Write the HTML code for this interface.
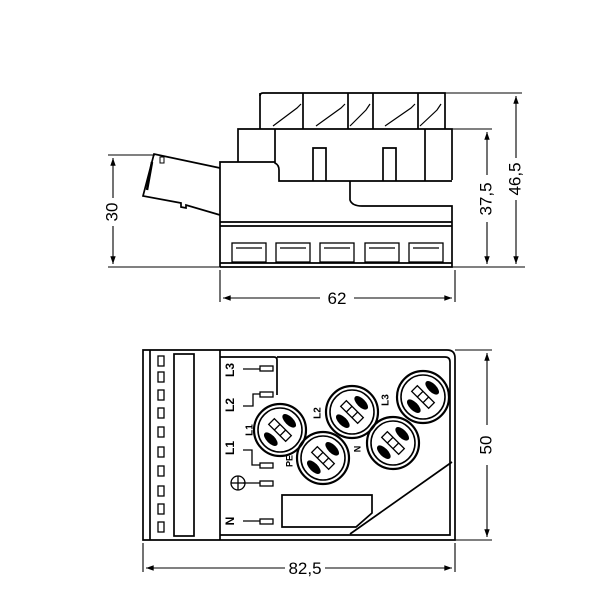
<!DOCTYPE html>
<html><head><meta charset="utf-8"><style>html,body{margin:0;padding:0;background:#fff}svg{display:block}</style></head>
<body>
<svg width="600" height="600" viewBox="0 0 600 600" xmlns="http://www.w3.org/2000/svg" font-family="Liberation Sans, sans-serif">
<defs>
<marker id="a" viewBox="0 0 10 10" refX="10" refY="5" markerWidth="9" markerHeight="7" orient="auto-start-reverse"><path d="M0,1.5 L10,5 L0,8.5z" fill="#000"/></marker>
<g id="t" stroke-width="1.3"><rect x="-12" y="-4" width="24" height="8"/><line x1="-4" y1="-4" x2="-4" y2="4"/><line x1="4" y1="-4" x2="4" y2="4"/><ellipse cx="0" cy="-13" rx="8" ry="3.5" fill="#000"/><ellipse cx="0" cy="13" rx="8" ry="3.5" fill="#000"/></g>
</defs>
<g fill="none" stroke="#000" stroke-width="1.7">
<!-- TOP VIEW -->
<path d="M260,96 Q260,93 263,93 L445,93 L445,129"/>
<line x1="260" y1="93" x2="260" y2="129"/>
<line x1="303" y1="93" x2="303" y2="129"/><line x1="348" y1="93" x2="348" y2="129"/>
<line x1="373" y1="93" x2="373" y2="129"/><line x1="418" y1="93" x2="418" y2="129"/>
<g stroke-width="1.2">
<path d="M273,126 L297,108 L301,104"/><path d="M316,126 L341,108 L345,104"/><path d="M350,126 L366,110 L370,104"/>
<path d="M385,126 L411,108 L415,104"/><path d="M420,126 L437,110 L441,104"/>
</g>
<path d="M238,162 L238,129 L452,129 L452,180"/>
<path d="M275,129 L275,163 Q279,165 279,170 L279,181 L452,181"/>
<line x1="425" y1="129" x2="425" y2="181"/>
<path d="M313,181 L313,148 L326,148 L326,181"/><path d="M383,181 L383,148 L396,148 L396,181"/>
<path d="M220,267 L220,162 L275,162"/>
<path d="M350,181 L350,200 Q352,206 362,206 L452,206 L452,267 L220,267"/>
<line x1="220" y1="222" x2="452" y2="222"/><line x1="220" y1="226" x2="452" y2="226"/>
<line x1="220" y1="263" x2="452" y2="263"/>
<g stroke-width="1.3">
<rect x="232" y="243" width="34" height="19"/><rect x="276" y="243" width="34" height="19"/>
<rect x="320" y="243" width="34" height="19"/><rect x="365" y="243" width="34" height="19"/><rect x="409" y="243" width="34" height="19"/>
<line x1="236" y1="248" x2="262" y2="248"/><line x1="280" y1="248" x2="306" y2="248"/><line x1="324" y1="248" x2="350" y2="248"/><line x1="369" y1="248" x2="395" y2="248"/><line x1="413" y1="248" x2="439" y2="248"/>
</g>
<path d="M220,168 L154,154 L143,196 L181,203 L181,207 L186,208 L186,205 L220,215"/>
<path d="M152,162 L147,190" stroke-width="2.5"/>
<rect x="160" y="157" width="4" height="6" stroke-width="1"/>
<g stroke-width="1.1">
<line x1="108" y1="155" x2="155" y2="155"/><line x1="108" y1="267" x2="220" y2="267"/>
<line x1="113" y1="158" x2="113" y2="198" marker-start="url(#a)"/><line x1="113" y1="226" x2="113" y2="264" marker-end="url(#a)"/>
<line x1="452" y1="129" x2="492" y2="129"/><line x1="445" y1="93" x2="522" y2="93"/><line x1="452" y1="267" x2="525" y2="267"/>
<line x1="487" y1="132" x2="487" y2="175" marker-start="url(#a)"/><line x1="487" y1="222" x2="487" y2="264" marker-end="url(#a)"/>
<line x1="516" y1="96" x2="516" y2="158" marker-start="url(#a)"/><line x1="516" y1="200" x2="516" y2="264" marker-end="url(#a)"/>
<line x1="220" y1="270" x2="220" y2="302"/><line x1="455" y1="270" x2="455" y2="302"/>
<line x1="223" y1="298" x2="320" y2="298" marker-start="url(#a)"/><line x1="354" y1="298" x2="452" y2="298" marker-end="url(#a)"/>
</g>
<!-- BOTTOM VIEW -->
<path d="M143,350 L447,350 Q455,350 455,358 L455,540 L143,540 Z"/>
<line x1="150" y1="350" x2="150" y2="540"/>
<rect x="174" y="354" width="20" height="182"/>
<line x1="220" y1="350" x2="220" y2="540"/>
<path d="M220,357 L274,357 Q277,357 277,360 L277,395"/>
<path d="M277,357 L445,357 Q450,357 450,362 L450,535 L220,535"/>
<g stroke-width="1.3">
<rect x="158" y="356" width="6" height="10"/><rect x="158" y="372" width="6" height="10"/><rect x="158" y="390" width="6" height="10"/>
<rect x="158" y="408" width="6" height="10"/><rect x="158" y="427" width="6" height="10"/><rect x="158" y="447" width="6" height="10"/>
<rect x="158" y="466" width="6" height="10"/><rect x="158" y="486" width="6" height="10"/><rect x="158" y="504" width="6" height="10"/><rect x="158" y="522" width="6" height="10"/>
<rect x="260" y="366" width="13" height="5"/><rect x="260" y="392" width="13" height="5"/><rect x="260" y="463" width="13" height="5"/><rect x="260" y="481" width="13" height="5"/><rect x="260" y="519" width="13" height="5"/>
<line x1="243" y1="369" x2="260" y2="369"/><line x1="243" y1="483" x2="260" y2="483"/><line x1="243" y1="521" x2="260" y2="521"/>
<path d="M243,406 L253,406 L253,394 L260,394"/><path d="M243,450 L252,450 L252,465 L260,465"/>
<circle cx="238" cy="483" r="7"/><line x1="231" y1="483" x2="245" y2="483"/><line x1="238" y1="476" x2="238" y2="490"/>
</g>
<path d="M282,495 L372,495 L372,513 L356,527 L282,527 Z"/>
<line x1="350" y1="534" x2="452" y2="462"/>
<g stroke-width="2.2">
<circle cx="280" cy="430" r="26"/><circle cx="323" cy="458" r="26"/><circle cx="352" cy="412" r="26"/><circle cx="393" cy="443" r="26"/><circle cx="423" cy="397" r="26"/>
</g>
<g fill="#fff" stroke-width="1.6">
<circle cx="280" cy="430" r="22"/><circle cx="323" cy="458" r="22"/><circle cx="352" cy="412" r="22"/><circle cx="393" cy="443" r="22"/><circle cx="423" cy="397" r="22"/>
</g>
<use href="#t" transform="translate(280,430) rotate(45)"/>
<use href="#t" transform="translate(323,458) rotate(45)"/>
<use href="#t" transform="translate(352,412) rotate(45)"/>
<use href="#t" transform="translate(393,443) rotate(45)"/>
<use href="#t" transform="translate(423,397) rotate(45)"/>
<g stroke-width="1.1">
<line x1="455" y1="350" x2="492" y2="350"/><line x1="455" y1="540" x2="492" y2="540"/>
<line x1="487" y1="353" x2="487" y2="425" marker-start="url(#a)"/><line x1="487" y1="465" x2="487" y2="537" marker-end="url(#a)"/>
<line x1="143" y1="543" x2="143" y2="572"/><line x1="455" y1="543" x2="455" y2="572"/>
<line x1="146" y1="568" x2="285" y2="568" marker-start="url(#a)"/><line x1="325" y1="568" x2="452" y2="568" marker-end="url(#a)"/>
</g>
</g>
<g font-size="17" fill="#000">
<text x="113" y="212" text-anchor="middle" transform="rotate(-90 113 212)" dominant-baseline="middle">30</text>
<text x="487" y="199" text-anchor="middle" transform="rotate(-90 487 199)" dominant-baseline="middle">37,5</text>
<text x="516" y="179" text-anchor="middle" transform="rotate(-90 516 179)" dominant-baseline="middle">46,5</text>
<text x="337" y="304" text-anchor="middle">62</text>
<text x="487" y="445" text-anchor="middle" transform="rotate(-90 487 445)" dominant-baseline="middle">50</text>
<text x="305" y="574" text-anchor="middle">82,5</text>
</g>
<g font-size="12" font-weight="bold" fill="#000">
<text x="231" y="370" text-anchor="middle" transform="rotate(-90 231 370)" dominant-baseline="middle">L3</text>
<text x="231" y="405" text-anchor="middle" transform="rotate(-90 231 405)" dominant-baseline="middle">L2</text>
<text x="231" y="448" text-anchor="middle" transform="rotate(-90 231 448)" dominant-baseline="middle">L1</text>
<text x="231" y="521" text-anchor="middle" transform="rotate(-90 231 521)" dominant-baseline="middle">N</text>
<text x="250" y="430" text-anchor="middle" transform="rotate(-90 250 430)" dominant-baseline="middle" font-size="10">L1</text>
<text x="318" y="413" text-anchor="middle" transform="rotate(-90 318 413)" dominant-baseline="middle" font-size="10">L2</text>
<text x="386" y="400" text-anchor="middle" transform="rotate(-90 386 400)" dominant-baseline="middle" font-size="10">L3</text>
<text x="290" y="461" text-anchor="middle" transform="rotate(-90 290 461)" dominant-baseline="middle" font-size="9">PE</text>
<text x="358" y="449" text-anchor="middle" transform="rotate(-90 358 449)" dominant-baseline="middle" font-size="9">N</text>
</g>
</svg>
</body></html>
